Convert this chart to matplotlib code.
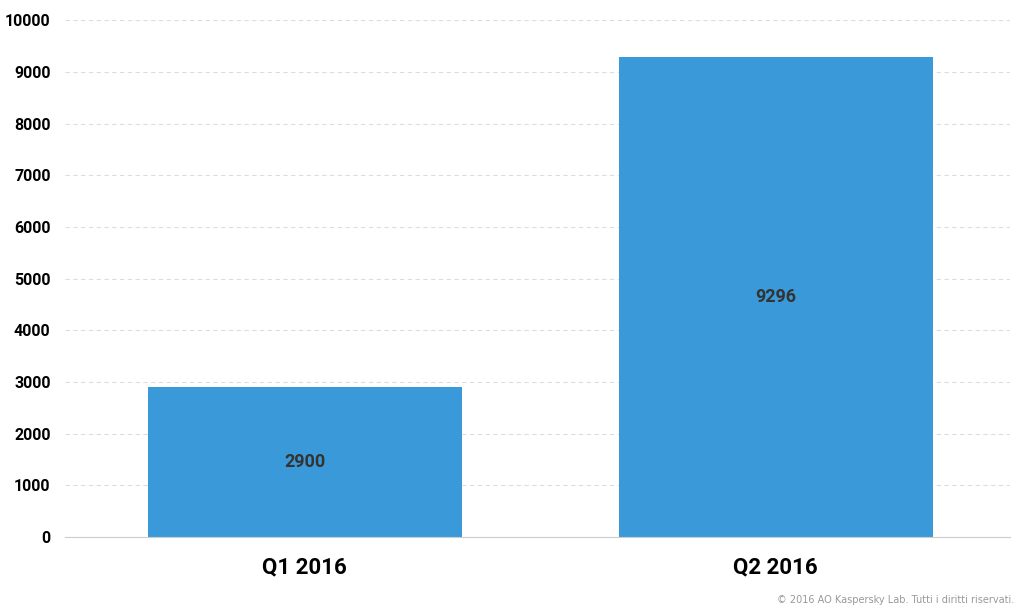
import matplotlib
matplotlib.use("Agg")
import matplotlib.pyplot as plt

categories = ["Q1 2016", "Q2 2016"]
values = [2900, 9296]
yticks = [0, 1000, 2000, 3000, 4000, 5000, 6000, 7000, 8000, 9000, 10000]

plt.rcParams['font.family'] = ['Roboto', 'DejaVu Sans']
fig = plt.figure(figsize=(10.24, 6.12), dpi=100)
ax = fig.add_axes([0.063, 0.1225, 0.923, 0.8445])
x = list(range(len(categories)))
ax.bar(x, values, width=0.667, color="#3a9ad9", zorder=2)
for xi, v in zip(x, values):
    ax.text(xi, v / 2, str(v), ha="center", va="center", fontsize=13,
            fontweight="bold", color="#333333", zorder=3)
ax.set_xlim(-0.51, 1.497)
ax.set_ylim(0, 10000)
ax.set_yticks(yticks)
ax.set_yticklabels([str(t) for t in yticks], fontsize=11.5, fontweight="bold")
ax.set_xticks(x)
ax.set_xticklabels(categories, fontsize=16, fontweight="bold")
ax.grid(axis="y", color="#dddddd", linestyle=(0, (4, 3)), linewidth=0.8, zorder=0)
for s in ["top", "right", "left"]:
    ax.spines[s].set_visible(False)
ax.spines["bottom"].set_color("#cccccc")
ax.tick_params(length=0, pad=10)
ax.tick_params(axis="x", pad=14)
fig.text(0.99, 0.012, "© 2016 AO Kaspersky Lab. Tutti i diritti riservati.",
         ha="right", va="bottom", fontsize=7, color="#999999",
         family=["DejaVu Sans"])
fig.savefig("out.png", dpi=100)
